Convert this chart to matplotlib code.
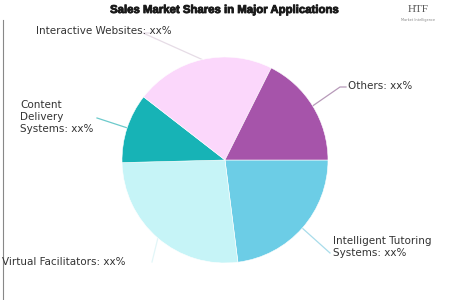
import matplotlib

matplotlib.use("Agg")
import matplotlib.patheffects as pe
import matplotlib.pyplot as plt
import numpy as np

title = "Sales Market Shares in Major Applications"
labels = [
    "Intelligent Tutoring\nSystems: xx%",
    "Virtual Facilitators: xx%",
    "Content\nDelivery\nSystems: xx%",
    "Interactive Websites: xx%",
    "Others: xx%",
]
shares = [23.0, 26.6, 10.9, 21.9, 17.6]
colors = ["#6ccde6", "#c6f4f7", "#17b3b6", "#fbd7fb", "#a654aa"]
line_colors = ["#a8dcea", "#e2f6f8", "#6ccacb", "#e6dce6", "#b79ab9"]

# text anchor (pixel coords, y down) and leader line ends
text_pos = [(333, 247), (2, 262), (20, 117), (36, 31), (348, 86)]
line_end = [(330, 253), (152, 262), (97, 118), (150, 33), (346, 87)]
elbow = [None, None, None, (143, 33), (340, 87)]

W, H = 450, 300
cx, cy, r = 225, 160, 103

fig = plt.figure(figsize=(4.5, 3), dpi=100)
ax = fig.add_axes([0, 0, 1, 1])

wedges, _ = ax.pie(
    shares,
    colors=colors,
    startangle=0,
    counterclock=False,
    radius=r,
    center=(cx, H - cy),
    wedgeprops=dict(edgecolor="white", linewidth=0.4),
    frame=True,
)
ax.set_xlim(0, W)
ax.set_ylim(0, H)
ax.set_aspect("equal")
ax.axis("off")

for i, w in enumerate(wedges):
    mid = np.deg2rad((w.theta1 + w.theta2) / 2)
    px = cx + r * np.cos(mid)
    py = (H - cy) + r * np.sin(mid)
    ex, ey = line_end[i]
    xs = [px, ex]
    ys = [py, H - ey]
    if elbow[i] is not None:
        xs = [px, elbow[i][0], ex]
        ys = [py, H - elbow[i][1], H - ey]
    ax.plot(xs, ys, color=line_colors[i], lw=0.9, zorder=0)
    tx, ty = text_pos[i]
    ax.text(tx, H - ty, labels[i], ha="left", va="center",
            fontsize=7.5, color="#333333", linespacing=1.25)

fig.text(225 / W, 1 - 10 / H, title, ha="center", va="center",
         fontsize=8.2, fontweight="bold", color="#1a1a1a",
         family=["Liberation Sans Narrow", "Liberation Sans"],
         path_effects=[pe.withStroke(linewidth=0.6, foreground="#1a1a1a")])

# logo
fig.text(418 / W, 1 - 10 / H, "HTF", ha="center", va="center",
         fontsize=8, color="#555555", family="Liberation Serif")
fig.text(418 / W, 1 - 20 / H, "Market Intelligence", ha="center",
         va="center", fontsize=2.5, color="#888888")

# left border line
ax.plot([2.5, 2.5], [0, H - 20], color="#888888", lw=0.8)

plt.savefig("out.png", dpi=100)
